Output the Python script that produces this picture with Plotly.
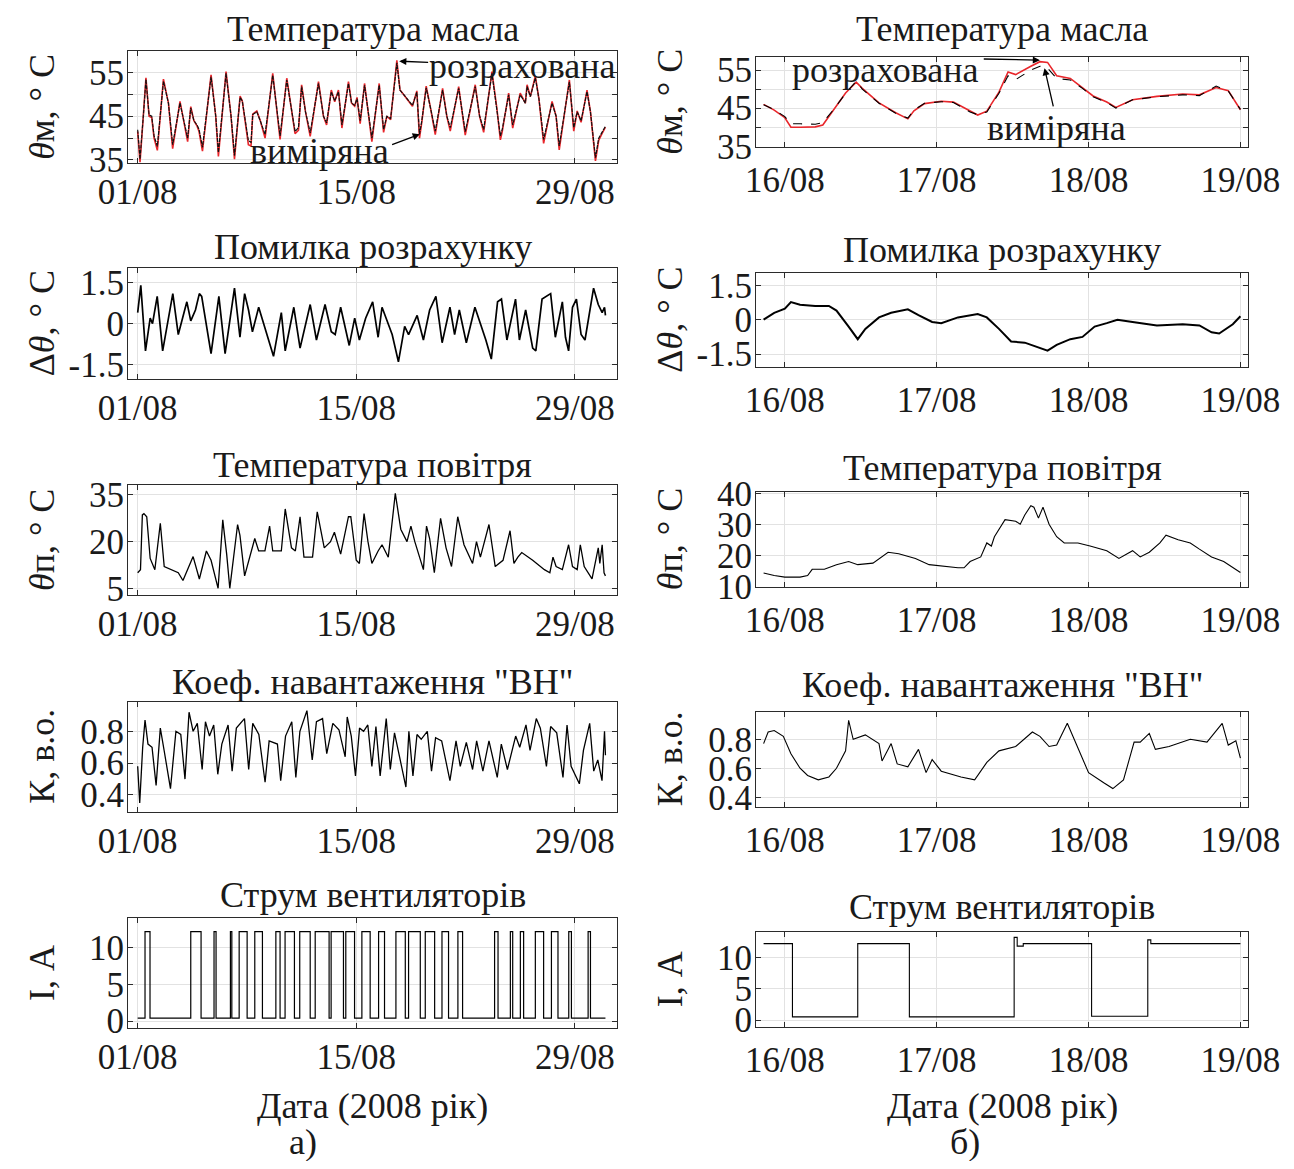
import plotly.graph_objects as go

FONT = "Liberation Serif"
W, H = 1294, 1169          # target picture size
OFF = 8                    # default page (body) margin of the html page
FW, FH = W - 2 * OFF, H - 2 * OFF   # figure size so the page does not overflow

# ---------------- Left column (01/08 .. 31/08), time in days since 01/08 00:00
oil_t_L = [0, 0.15, 0.36, 0.53, 0.73, 0.9, 1.05, 1.26, 1.65, 1.97, 2.24, 2.71, 3.2, 3.4, 3.6, 3.8, 3.93, 4.15,
           4.7, 5.0, 5.17, 5.66, 5.98, 6.2, 6.56, 6.7, 7.09, 7.26, 7.37, 7.63, 7.85, 8.16, 8.65, 9.12, 9.55,
           9.87, 10.08, 10.3, 10.5, 10.75, 11.05, 11.58, 11.9, 12.1, 12.4, 12.62, 12.86, 13.08, 13.5, 13.7,
           13.9, 14.05, 14.25, 14.53, 14.78, 15.0, 15.47, 15.75, 15.96, 16.2, 16.6, 16.8, 17.03, 17.35, 17.6,
           17.88, 18.05, 18.2, 18.48, 18.75, 19.06, 19.53, 19.8, 20.02, 20.56, 20.98, 21.62, 21.9, 22.16,
           22.69, 23.0, 23.23, 23.35, 23.76, 24.02, 24.5, 24.83, 24.94, 25.15, 25.47, 25.7, 26.0, 26.54,
           26.8, 27.0, 27.65, 27.93, 28.15, 28.4, 28.78, 29.0, 29.32, 29.53, 29.74, 29.96]
oil_meas_L = [41.9, 35.2, 45, 53.4, 45.3, 45, 40.5, 38.1, 53, 48, 38.5, 48, 40, 46.9, 44, 43, 42, 37.9,
              54, 45, 36.7, 54.8, 45, 36, 49.3, 48.5, 39.4, 39, 45.4, 46, 44, 40.8, 54.4, 40.5, 53.3,
              46, 41.5, 42.4, 51.8, 46, 41.2, 52.5, 45, 43.5, 50.6, 48.5, 50.6, 43, 52.5, 48,
              47.5, 49, 44, 52.1, 46, 40, 52.1, 42, 45, 44.5, 57.2, 51, 50, 48.5, 47.5,
              50.5, 40.9, 44, 51.5, 47, 41.6, 51, 45, 42.4, 51.4, 41.5, 51.8, 45, 42,
              54.8, 47, 40.5, 42, 49.9, 43, 49.9, 48, 51.8, 49.5, 53.8, 49, 39.7, 48,
              45, 38.2, 52.9, 42.4, 46, 44, 50.6, 46, 35.5, 40, 41.5, 42.7]
oil_calc_L = [41.5, 34.5, 45, 53.8, 45, 44.7, 40, 37.2, 53.5, 48, 37.6, 48.4, 39.2, 47.2, 44, 42.8, 41.5, 37,
              54.5, 45, 35.8, 55.2, 45, 35.2, 49.6, 48.5, 38.5, 38.2, 45.5, 46.2, 44, 40, 54.8, 39.7, 53.7,
              46, 41, 41.8, 52.2, 46, 40.4, 52.9, 45, 43, 51, 48.3, 51, 42.3, 52.9, 48,
              47.3, 49.3, 43.3, 52.5, 46, 39.2, 52.5, 41.3, 45, 44.2, 57.8, 51, 50, 48.5, 47.3,
              50.8, 40, 43.7, 51.9, 47, 40.8, 51.4, 45, 41.6, 51.8, 40.7, 52.2, 45, 41.3,
              55.2, 47, 39.6, 41.5, 50.3, 42.3, 50.3, 48, 52.2, 49.5, 54.2, 49, 38.8, 48.4,
              45, 37.3, 53.3, 41.6, 46.2, 43.6, 51, 46, 34.8, 39.5, 41, 42.5]

err_t_L = [0, 0.2, 0.5, 0.8, 0.95, 1.25, 1.6, 2.25, 2.6, 3.15, 3.4, 3.7, 3.95, 4.1, 4.7, 5.2, 5.6, 6.2, 6.55,
           6.85, 7.1, 7.35, 7.75, 8.7, 9.2, 9.45, 10.0, 10.4, 11.05, 11.45, 12.0, 12.4, 12.65, 13.0, 13.55,
           13.9, 14.2, 14.6, 15.05, 15.4, 15.65, 16.3, 16.7, 17.1, 17.35, 17.9, 18.3, 18.7, 19.1, 19.5, 20.0,
           20.3, 20.6, 21.05, 21.6, 22.3, 22.65, 23.05, 23.3, 23.65, 24.2, 24.45, 24.85, 25.3, 25.5, 25.9,
           26.45, 26.75, 27.2, 27.4, 27.6, 27.85, 28.1, 28.4, 28.65, 29.2, 29.5, 29.75, 29.9, 29.96]
err_v_L = [0.4, 1.4, -1.0, 0.2, 0, 1.0, -1.0, 1.1, -0.4, 0.8, 0.1, 0.5, 1.1, 1.0, -1.1, 1.0, -1.1, 1.3, -0.5,
           1.1, 0.5, -0.3, 0.6, -1.2, 0.4, -1.0, 0.6, -0.9, 0.7, -0.6, 0.7, -0.3, -0.4, 0.6, -0.8,
           0.2, -0.6, 0.2, 0.8, -0.5, 0.6, -0.4, -1.4, -0.1, -0.4, 0.3, -0.6, 0.5, 1.0, -0.7, 0.6,
           -0.4, 0.5, -0.7, 0.6, -0.6, -1.3, 0.8, 0.9, -0.6, 0.9, -0.6, 0.5, -0.9, -1.0, 0.9,
           1.1, -0.5, 0.8, -0.5, -1.0, 0.6, 0.9, -0.4, -0.6, 1.3, 0.7, 0.4, 0.6, 0.3]

air_t_L = [0, 0.18, 0.3, 0.4, 0.58, 0.8, 1.1, 1.45, 1.7, 2.1, 2.6, 2.9, 3.55, 3.95, 4.4, 4.7, 5.15, 5.45, 5.7,
           5.9, 6.4, 6.55, 6.85, 7.5, 7.75, 8.15, 8.45, 8.65, 9.2, 9.45, 9.85, 10.1, 10.4, 10.65, 11.2, 11.5,
           11.95, 12.35, 12.6, 13.0, 13.5, 13.65, 14.0, 14.2, 14.5, 14.75, 15.0, 15.4, 15.65, 16.05, 16.5,
           16.85, 17.25, 17.5, 17.75, 18.3, 18.5, 18.7, 19.0, 19.4, 19.75, 20.1, 20.5, 20.9, 21.45, 21.7,
           21.95, 22.5, 22.9, 23.4, 23.7, 23.85, 24.1, 24.35, 24.6, 25.3, 26.05, 26.4, 26.6, 26.8, 27.2,
           27.6, 27.85, 28.15, 28.35, 28.6, 29.1, 29.5, 29.6, 29.75, 29.87, 29.96]
air_v_L = [10, 11, 28.6, 29, 28, 14.6, 11, 25.9, 12, 11, 10, 7.5, 15.2, 8, 17, 14, 5, 27, 16,
           5, 25.5, 22, 9, 21, 17, 17, 25, 17, 17, 30.5, 18, 17, 28, 15, 15, 29.6,
           18, 20, 23, 16, 28, 28, 14, 13, 29, 20, 13, 17, 19, 15, 35.5,
           24, 20, 25, 20, 11, 25, 21, 10, 27.5, 18, 12, 28, 19, 13, 20,
           15, 25.5, 12, 14, 20, 23.5, 13, 15, 16.5, 14, 11, 10, 15, 12, 11,
           19, 12, 11, 19, 12, 8, 18, 13, 19, 10, 9]

load_t_L = [0, 0.13, 0.32, 0.47, 0.66, 0.92, 1.18, 1.45, 1.71, 2.1, 2.45, 2.76, 3.03, 3.29, 3.55, 3.82, 4.13,
            4.34, 4.6, 4.87, 5.13, 5.39, 5.79, 6.05, 6.32, 6.84, 7.11, 7.37, 7.76, 8.16, 8.42, 8.95, 9.16,
            9.47, 9.87, 10.13, 10.39, 10.84, 11.18, 11.45, 11.84, 12.11, 12.5, 12.89, 13.29, 13.42, 13.68,
            13.95, 14.21, 14.47, 14.74, 15.0, 15.26, 15.53, 15.92, 16.18, 16.45, 17.18, 17.37, 17.63, 17.89,
            18.16, 18.55, 18.82, 19.08, 19.47, 20.0, 20.39, 20.66, 21.05, 21.45, 21.71, 22.11, 22.5, 23.03,
            23.29, 23.68, 24.21, 24.47, 24.87, 25.13, 25.53, 25.79, 26.18, 26.45, 26.84, 27.24, 27.5, 27.76,
            28.29, 28.55, 28.95, 29.21, 29.47, 29.74, 29.9, 29.96]
load_v_L = [0.58, 0.35, 0.7, 0.87, 0.72, 0.70, 0.46, 0.82, 0.67, 0.44, 0.80, 0.78, 0.5, 0.92, 0.80, 0.85, 0.56,
            0.86, 0.77, 0.84, 0.53, 0.72, 0.84, 0.55, 0.82, 0.88, 0.56, 0.85, 0.78, 0.48, 0.74, 0.72, 0.49,
            0.77, 0.86, 0.51, 0.8, 0.93, 0.62, 0.86, 0.88, 0.66, 0.85, 0.81, 0.64, 0.89, 0.77,
            0.52, 0.82, 0.80, 0.84, 0.58, 0.83, 0.52, 0.88, 0.56, 0.79, 0.45, 0.8, 0.52, 0.78,
            0.75, 0.8, 0.55, 0.76, 0.74, 0.49, 0.74, 0.58, 0.73, 0.56, 0.74, 0.55, 0.74, 0.51,
            0.72, 0.56, 0.77, 0.7, 0.84, 0.68, 0.88, 0.82, 0.58, 0.83, 0.79, 0.51, 0.84, 0.58,
            0.47, 0.68, 0.85, 0.55, 0.62, 0.49, 0.80, 0.65]

fan_on_L = [0.47, 3.40, 4.89, 5.94, 6.50, 7.50, 8.85, 9.44, 10.38, 11.37, 12.39, 13.33, 14.36, 15.43,
            16.54, 17.35, 18.42, 19.49, 20.51, 22.86, 23.87, 24.51, 25.47, 26.50, 27.61, 28.85]
fan_off_L = [0.79, 4.06, 5.02, 6.03, 7.01, 7.99, 9.12, 10.04, 11.05, 12.26, 13.18, 13.89, 14.89, 15.81,
             17.14, 18.10, 19.02, 19.91, 20.81, 23.08, 24.02, 24.72, 26.00, 26.92, 27.78, 29.00]
fan_high_L, fan_low_L = 12.2, 0.4
fan_end_L = 29.96

# ---------------- Right column (16/08 .. 19/08), time in days since 16/08 00:00
oil_t_R = [-0.14, -0.07, 0, 0.04, 0.1, 0.2, 0.25, 0.32, 0.4, 0.47, 0.51, 0.62, 0.73, 0.81, 0.85, 0.92, 1.03,
           1.11, 1.22, 1.27, 1.33, 1.41, 1.47, 1.52, 1.62, 1.68, 1.73, 1.79, 1.88, 1.96, 2.03, 2.12, 2.18,
           2.29, 2.45, 2.62, 2.73, 2.84, 2.92, 3.0]
oil_meas_R = [45.9, 44.6, 42.8, 40.9, 40.9, 40.8, 41.2, 44.6, 48.9, 52.1, 50, 46.3, 43.7, 42.4, 44.5, 46.3,
              46.7, 46.5, 44, 43.3, 44, 48.9, 53.5, 52.5, 55, 56, 55.5, 52.8, 52.4, 50.2, 48, 46.5, 45,
              47.2, 48, 48.5, 48.3, 50.8, 49.5, 44.7]
oil_calc_R = [46, 44.5, 42.5, 40, 40, 40.1, 40.6, 44.5, 49, 51.8, 50.2, 46.4, 43.8, 42.2, 44.3, 46.2,
              46.8, 46.6, 44.2, 43.2, 44.2, 49.2, 54.5, 53.8, 56, 57.2, 57, 53.5, 52.8, 50.4, 48.2, 46.6, 45.2,
              47.2, 48.1, 48.7, 48.5, 50.4, 49.6, 44.6]

err_t_R = [-0.14, -0.07, 0, 0.04, 0.1, 0.2, 0.29, 0.34, 0.42, 0.48, 0.53, 0.62, 0.7, 0.81, 0.88, 0.97, 1.03,
           1.14, 1.27, 1.33, 1.41, 1.49, 1.58, 1.66, 1.73, 1.79, 1.88, 1.96, 2.04, 2.12, 2.19, 2.29, 2.45,
           2.62, 2.73, 2.81, 2.86, 2.95, 3.0]
err_v_R = [0, 0.3, 0.48, 0.77, 0.65, 0.6, 0.6, 0.4, -0.3, -0.85, -0.4, 0.1, 0.3, 0.45, 0.2, -0.1, -0.15,
           0.1, 0.25, 0.1, -0.4, -0.95, -1.0, -1.2, -1.35, -1.1, -0.85, -0.75, -0.3, -0.15, 0.0, -0.1, -0.25,
           -0.2, -0.25, -0.55, -0.6, -0.2, 0.15]

air_t_R = [-0.14, -0.07, 0, 0.1, 0.15, 0.18, 0.26, 0.34, 0.42, 0.48, 0.58, 0.64, 0.68, 0.75, 0.86, 0.95, 1.03,
           1.14, 1.18, 1.22, 1.29, 1.33, 1.36, 1.38, 1.45, 1.52, 1.55, 1.58, 1.62, 1.64, 1.67, 1.7, 1.74,
           1.79, 1.84, 1.93, 2.01, 2.12, 2.2, 2.29, 2.34, 2.4, 2.47, 2.51, 2.59, 2.67, 2.73, 2.81, 2.89, 3.0]
air_v_R = [14.3, 13.5, 13, 13, 13.5, 15.5, 15.5, 17, 18, 17, 17.5, 19.5, 21, 20.5, 19, 17, 16.5,
           16, 16, 18, 19.5, 24, 23, 26, 31.5, 31, 30, 33, 36, 35.5, 32, 35.5, 30,
           26, 24, 24, 23, 21.5, 19, 21.5, 19.5, 21, 24, 26.5, 25, 24, 22, 19.5, 18, 14.5]

load_t_R = [-0.14, -0.11, -0.07, -0.01, 0.04, 0.1, 0.15, 0.22, 0.29, 0.34, 0.4, 0.42, 0.45, 0.53, 0.62, 0.64,
            0.7, 0.74, 0.81, 0.88, 0.93, 0.97, 1.03, 1.16, 1.25, 1.33, 1.41, 1.52, 1.63, 1.68, 1.74, 1.79,
            1.86, 1.93, 2.0, 2.1, 2.16, 2.23, 2.3, 2.34, 2.4, 2.44, 2.53, 2.67, 2.78, 2.88, 2.92, 2.97, 3.0]
load_v_R = [0.77, 0.85, 0.86, 0.82, 0.7, 0.6, 0.55, 0.52, 0.54, 0.6, 0.72, 0.93, 0.8, 0.83, 0.77, 0.65,
            0.77, 0.63, 0.61, 0.73, 0.57, 0.66, 0.58, 0.54, 0.52, 0.64, 0.72, 0.75, 0.85, 0.82, 0.75, 0.76,
            0.91, 0.74, 0.57, 0.5, 0.46, 0.52, 0.78, 0.78, 0.84, 0.73, 0.75, 0.8, 0.78, 0.91, 0.76, 0.79, 0.67]

fan_t_R = [-0.14, 0.05, 0.48, 0.82, 1.51, 1.53, 1.57, 2.02, 2.39, 2.41, 3.0]
fan_v_R = [12.2, 0.5, 12.2, 0.5, 13.2, 11.8, 12.2, 0.6, 12.8, 12.2, 12.2]

# ---------------- texts / ticks
titles = ["Температура масла", "Помилка розрахунку", "Температура повітря",
          'Коеф. навантаження "ВН"', "Струм вентиляторів"]
ylabels = ["<i>θ</i>м, ° C", "Δ<i>θ</i>, ° C", "<i>θ</i>п, ° C", "К, в.о.", "І, А"]
xtick_L = [0, 14, 28]
xtext_L = ["01/08", "15/08", "29/08"]
xtick_R = [0, 1, 2, 3]
xtext_R = ["16/08", "17/08", "18/08", "19/08"]
xlabel = "Дата (2008 рік)"
panel_labels = ["а)", "б)"]

# ---------------- layout geometry (pixels in the final picture)
LEFT_X = (128, 617)
RIGHT_X = (756, 1248)
LEFT_ROWS = [(50.7, 163), (267.7, 379), (485, 595), (701.7, 811.7), (918, 1028)]
RIGHT_ROWS = [(56.7, 146.7), (272.7, 366.7), (491.7, 586.7), (711.7, 806.7), (931.7, 1026.7)]
LEFT_TITLE_Y = [29, 247, 465, 682, 895]
RIGHT_TITLE_Y = [29, 250, 468, 685, 907]


def fx(p):
    return (p - OFF) / FW


def fy(p):
    return 1 - (p - OFF) / FH


yconf_L = [
    dict(range=[34.3, 60], tickvals=[35, 40, 45, 50, 55], ticktext=["35", "", "45", "", "55"]),
    dict(range=[-2.03, 2.05], tickvals=[-1.5, 0, 1.5], ticktext=["-1.5", "0", "1.5"]),
    dict(range=[2.85, 38.2], tickvals=[5, 20, 35], ticktext=["5", "20", "35"]),
    dict(range=[0.295, 0.986], tickvals=[0.4, 0.6, 0.8], ticktext=["0.4", "0.6", "0.8"]),
    dict(range=[-0.95, 14.05], tickvals=[0, 5, 10], ticktext=["0", "5", "10"]),
]
yconf_R = [
    dict(range=[34.9, 58.5], tickvals=[35, 40, 45, 50, 55], ticktext=["35", "", "45", "", "55"]),
    dict(range=[-2.05, 2.05], tickvals=[-1.5, 0, 1.5], ticktext=["-1.5", "0", "1.5"]),
    dict(range=[9.9, 40.5], tickvals=[10, 20, 30, 40], ticktext=["10", "20", "30", "40"]),
    dict(range=[0.335, 0.99], tickvals=[0.4, 0.6, 0.8], ticktext=["0.4", "0.6", "0.8"]),
    dict(range=[-1.07, 14.1], tickvals=[0, 5, 10], ticktext=["0", "5", "10"]),
]

TXT = "#1a1a1a"
TICKFONT = dict(family=FONT, size=35, color=TXT)
BIGFONT = dict(family=FONT, size=36, color=TXT)
AXLINE = "#2b2b2b"
GRID = "#e2e2e2"

fig = go.Figure()
layout = dict(width=FW, height=FH, margin=dict(l=0, r=0, t=0, b=0, autoexpand=False), autosize=False,
              paper_bgcolor="white", plot_bgcolor="white", showlegend=False,
              font=dict(family=FONT, color=TXT))


def axid(i):
    return ("x" if i == 1 else f"x{i}"), ("y" if i == 1 else f"y{i}")


annotations = []
for col in range(2):
    xpx = LEFT_X if col == 0 else RIGHT_X
    rows = LEFT_ROWS if col == 0 else RIGHT_ROWS
    yconf = yconf_L if col == 0 else yconf_R
    tys = LEFT_TITLE_Y if col == 0 else RIGHT_TITLE_Y
    for r in range(5):
        i = col * 5 + r + 1
        xa, ya = axid(i)
        top, bot = rows[r]
        xkey = "xaxis" if i == 1 else f"xaxis{i}"
        ykey = "yaxis" if i == 1 else f"yaxis{i}"
        layout[xkey] = dict(
            domain=[fx(xpx[0]), fx(xpx[1])], anchor=ya,
            range=[-0.62, 30.7] if col == 0 else [-0.19, 3.05],
            tickmode="array", tickvals=xtick_L if col == 0 else xtick_R,
            ticktext=xtext_L if col == 0 else xtext_R,
            showline=True, linecolor=AXLINE, linewidth=1, mirror="ticks",
            ticks="inside", ticklen=5, tickcolor=AXLINE, tickwidth=1,
            showgrid=True, gridcolor=GRID, gridwidth=1, zeroline=False, automargin=False,
            tickfont=TICKFONT, ticklabelstandoff=(-2 if col == 0 else 2), fixedrange=True)
        yc = yconf[r]
        layout[ykey] = dict(
            domain=[fy(bot), fy(top)], anchor=xa,
            range=yc["range"], tickmode="array", tickvals=yc["tickvals"], ticktext=yc["ticktext"],
            showline=True, linecolor=AXLINE, linewidth=1, mirror="ticks",
            ticks="inside", ticklen=5, tickcolor=AXLINE, tickwidth=1,
            showgrid=True, gridcolor=GRID, gridwidth=1, zeroline=False, automargin=False,
            tickfont=TICKFONT, ticklabelstandoff=-4, fixedrange=True)
        annotations.append(dict(text=titles[r], xref="paper", yref="paper",
                                x=fx((xpx[0] + xpx[1]) / 2), y=fy(tys[r]),
                                xanchor="center", yanchor="middle", showarrow=False, font=BIGFONT))
        annotations.append(dict(text=ylabels[r], xref="paper", yref="paper",
                                x=fx(42 if col == 0 else 670), y=fy((top + bot) / 2),
                                xanchor="center", yanchor="middle", showarrow=False, textangle=-90,
                                font=BIGFONT))
    cx = (xpx[0] + xpx[1]) / 2
    annotations.append(dict(text=xlabel, xref="paper", yref="paper", x=fx(cx), y=fy(1106),
                            xanchor="center", yanchor="middle", showarrow=False, font=BIGFONT))
    annotations.append(dict(text=panel_labels[col], xref="paper", yref="paper",
                            x=fx(303 if col == 0 else 965), y=fy(1142),
                            xanchor="center", yanchor="middle", showarrow=False, font=BIGFONT))


def line(x, y, i, color="black", width=1.2, dash="solid", shape="linear"):
    xa, ya = axid(i)
    fig.add_trace(go.Scatter(x=x, y=y, xaxis=xa, yaxis=ya, mode="lines",
                             line=dict(color=color, width=width, dash=dash, shape=shape),
                             hoverinfo="skip"))


RED = "#e8262b"
# left column
line(oil_t_L, oil_calc_L, 1, color=RED, width=1.6)
line(oil_t_L, oil_meas_L, 1, color="#111111", width=1.2, dash="4px,1px")
line(err_t_L, err_v_L, 2, width=1.7)
line(air_t_L, air_v_L, 3, width=1.3)
line(load_t_L, load_v_L, 4, width=1.3)
fan_t_L = [0.0]
fan_v_L = [fan_low_L]
for on, off in zip(fan_on_L, fan_off_L):
    fan_t_L += [on, off]
    fan_v_L += [fan_high_L, fan_low_L]
fan_t_L.append(fan_end_L)
fan_v_L.append(fan_low_L)
line(fan_t_L, fan_v_L, 5, width=1.2, shape="hv")
# right column
line(oil_t_R, oil_calc_R, 6, color=RED, width=1.6)
line(oil_t_R, oil_meas_R, 6, color="black", width=1.1, dash="dash")
line(err_t_R, err_v_R, 7, width=2.0)
line(air_t_R, air_v_R, 8, width=1.1)
line(load_t_R, load_v_R, 9, width=1.1)
line(fan_t_R, fan_v_R, 10, width=1.1, shape="hv")

# arrow annotations (data coordinates)
arrow_common = dict(showarrow=True, arrowhead=2, arrowsize=1.1, arrowwidth=1.3, arrowcolor="black",
                    text="", standoff=0, startstandoff=0)
annotations += [
    dict(text="розрахована", xref="x", yref="y", x=24.67, y=56.4, showarrow=False,
         xanchor="center", yanchor="middle", font=BIGFONT),
    dict(xref="x", yref="y", axref="x", ayref="y", x=16.75, y=57.6, ax=18.7, ay=57.3, **arrow_common),
    dict(text="виміряна", xref="x", yref="y", x=11.67, y=37.1, showarrow=False,
         xanchor="center", yanchor="middle", font=BIGFONT),
    dict(xref="x", yref="y", axref="x", ayref="y", x=18.07, y=40.9, ax=16.2, ay=38.4, **arrow_common),
    dict(text="розрахована", xref="x6", yref="y6", x=0.666, y=55.0, showarrow=False,
         xanchor="center", yanchor="middle", font=BIGFONT),
    dict(xref="x6", yref="y6", axref="x6", ayref="y6", x=1.68, y=57.6, ax=1.30, ay=57.9, **arrow_common),
    dict(text="виміряна", xref="x6", yref="y6", x=1.79, y=39.9, showarrow=False,
         xanchor="center", yanchor="middle", font=BIGFONT),
    dict(xref="x6", yref="y6", axref="x6", ayref="y6", x=1.71, y=55.5, ax=1.77, ay=45.1, **arrow_common),
]
layout["annotations"] = annotations
fig.update_layout(**layout)
fig.write_html("out.html")
